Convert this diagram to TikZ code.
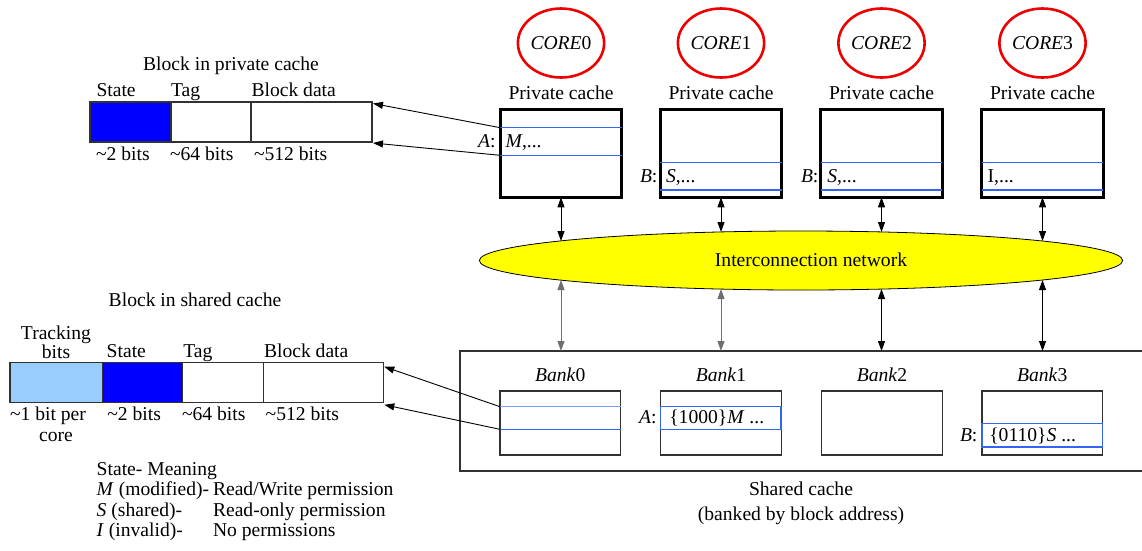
\documentclass[tikz,border=0pt]{standalone}
\usepackage{fontspec}
\setmainfont{Liberation Serif}
\usetikzlibrary{arrows.meta,shapes.geometric,calc}
\definecolor{stateblue}{RGB}{0,0,255}
\definecolor{trackblue}{RGB}{153,204,255}
\definecolor{rowblue}{RGB}{51,102,240}
\definecolor{rowlight}{RGB}{120,160,255}
\definecolor{netyellow}{RGB}{255,255,0}
\definecolor{corered}{RGB}{238,0,0}
\definecolor{edgegray}{RGB}{50,50,50}
\definecolor{shaftgray}{RGB}{110,110,110}
\begin{document}
\begin{tikzpicture}[x=1pt,y=-1pt,
  font=\fontsize{19.6}{22}\selectfont,
  >={Triangle[length=10pt,width=7pt]},
  txt/.style={inner sep=0pt,outer sep=0pt},
  lbl/.style={txt,anchor=base west},
  clbl/.style={txt,anchor=base},
  core/.style={ellipse,draw=corered,line width=2.6pt,minimum width=82pt,minimum height=69pt,inner sep=0pt,outer sep=0pt},
  pcache/.style={draw,line width=2.7pt,minimum width=121.5pt,minimum height=88pt,inner sep=0pt,outer sep=0pt,anchor=north west},
  bankbox/.style={draw=edgegray,line width=1.1pt,minimum width=120.5pt,minimum height=64pt,inner sep=0pt,outer sep=0pt,anchor=north west},
  field/.style={draw=edgegray,line width=1.1pt,inner sep=0pt,outer sep=0pt,anchor=north west},
  row/.style={rowblue,line width=1.3pt},
  link/.style={line width=0.9pt,<->},
  ptr/.style={line width=0.9pt,->}]
\useasboundingbox (0,0) rectangle (1142,550);

% ---- block layout in a private cache ----
\node[clbl] (ptitle) at (231,70.5) {Block in private cache};
\node[field,fill=stateblue,minimum width=81pt,minimum height=40pt] (pstate) at (90,102) {};
\node[field,minimum width=80pt,minimum height=40pt] (ptag) at (171,102) {};
\node[field,minimum width=121pt,minimum height=40pt] (pdata) at (251,102) {};
\node[lbl] (pstl) at (96.5,96.7) {State};
\node[lbl] (ptgl) at (171,96.7) {Tag};
\node[lbl] (pdtl) at (251.5,96.7) {Block data};
\node[lbl] (pstb) at (96,160) {\textasciitilde2 bits};
\node[lbl] (ptgb) at (170,160) {\textasciitilde64 bits};
\node[lbl] (pdtb) at (254,160) {\textasciitilde512 bits};

% ---- cores and their private caches ----
\foreach \i/\x in {0/561,1/721,2/881.5,3/1042.5}{
  \node[core] (core\i) at (\x,43) {\textit{CORE}\i};
  \node[clbl] (pcl\i) at (\x,99) {Private cache};
  \node[pcache] (c\i) at (\x-60.75,109.3) {};
}
\draw[row] ($(c0.north west)+(0,18.4)$) -- ($(c0.north east)+(0,18.4)$);
\draw[row] ($(c0.north west)+(0,46)$) -- ($(c0.north east)+(0,46)$);
\foreach \i in {1,2,3}{
  \draw[row] ($(c\i.north west)+(0,53)$) -- ($(c\i.north east)+(0,53)$);
  \draw[row] ($(c\i.north west)+(0,80.7)$) -- ($(c\i.north east)+(0,80.7)$);
}
\node[lbl] (ca) at (478,147.7) {\textit{A}:};
\node[lbl] (cam) at (505.7,147.7) {\textit{M},...};
\node[lbl] (cb1) at (640,182.7) {\textit{B}:};
\node[lbl] (cbs1) at (666,182.7) {\textit{S},...};
\node[lbl] (cb2) at (801,182.7) {\textit{B}:};
\node[lbl] (cbs2) at (827.3,182.7) {\textit{S},...};
\node[lbl] (ci3) at (987.7,182.7) {I,...};

% pointers from line A of private cache 0 to the block layout
\draw[ptr] ($(c0.north west)+(0,18.4)$) -- ($(pdata.north east)+(1,1.5)$);
\draw[ptr] ($(c0.north west)+(0,46)$) -- ($(pdata.south east)+(1,1)$);

% ---- interconnection network ----
\node[ellipse,draw,fill=netyellow,line width=0.8pt,minimum width=643.4pt,minimum height=59pt,inner sep=0pt,outer sep=0pt] (net) at (801,260.5) {};
\node[clbl] (netl) at (811,266.7) {Interconnection network};

% ---- shared cache ----
\node[draw=edgegray,line width=1.1pt,minimum width=700pt,minimum height=120pt,inner sep=0pt,outer sep=0pt,anchor=north west] (sc) at (460,351) {};
\foreach \i/\x in {0/500,1/660.7,2/821.7,3/982}{
  \node[bankbox] (b\i) at (\x,391) {};
  \node[clbl] (bl\i) at ($(b\i.north)+(0,-9.3)$) {\textit{Bank}\i};
}
\draw[rowlight,line width=1.3pt] ($(b0.north west)+(0,15.7)$) -- ($(b0.north east)+(0,15.7)$);
\draw[row] ($(b0.north west)+(0,38.3)$) -- ($(b0.north east)+(0,38.3)$);
\draw[rowblue,line width=1.5pt] ($(b1.north west)+(0,15.7)$) rectangle ($(b1.north east)+(0,38.3)$);
\draw[rowblue,line width=1.5pt] ($(b3.north west)+(0,32.3)$) rectangle ($(b3.north east)+(0,56)$);
\node[lbl] (sa) at (639,423.3) {\textit{A}:};
\node[lbl] (sam) at (669.3,423.3) {\{1000\}\textit{M} ...};
\node[lbl] (sb) at (960,441.7) {\textit{B}:};
\node[lbl] (sbs) at (989.3,441.7) {\{0110\}\textit{S} ...};
\node[clbl] (scl1) at (801,495) {Shared cache};
\node[clbl] (scl2) at (801,520) {(banked by block address)};

% links between caches, network and banks
\foreach \i/\x/\t/\b in {0/561/241/280,1/721/232/289,2/881.5/232/289,3/1042.5/241/280}{
  \coordinate (nt\i) at (\x,\t);
  \coordinate (nb\i) at (\x,\b);
  \draw[link] (c\i.south) -- (nt\i);
}
\draw[link,draw=shaftgray] (nb0) -- (nb0 |- sc.north);
\draw[link,draw=shaftgray] (nb1) -- (nb1 |- sc.north);
\draw[link] (nb2) -- (nb2 |- sc.north);
\draw[link] (nb3) -- (nb3 |- sc.north);

% ---- block layout in the shared cache ----
\node[clbl] (stitle) at (195,306.7) {Block in shared cache};
\node[field,fill=trackblue,minimum width=92.3pt,minimum height=39.6pt] (strk) at (10,362.7) {};
\node[field,fill=stateblue,minimum width=80.4pt,minimum height=39.6pt] (sst) at (102.3,362.7) {};
\node[field,minimum width=80.6pt,minimum height=39.6pt] (stg) at (182.7,362.7) {};
\node[field,minimum width=120pt,minimum height=39.6pt] (sdt) at (263.3,362.7) {};
\node[clbl] (strl1) at (56,339.3) {Tracking};
\node[clbl] (strl2) at (56,358.3) {bits};
\node[lbl] (sstl) at (106.7,357.7) {State};
\node[lbl] (stgl) at (183.3,357.7) {Tag};
\node[lbl] (sdtl) at (264,357.7) {Block data};
\node[lbl] (strb) at (10,420) {\textasciitilde1 bit per};
\node[clbl] (strb2) at (56,441.5) {core};
\node[lbl] (sstb) at (107.3,420) {\textasciitilde2 bits};
\node[lbl] (stgb) at (182,420) {\textasciitilde64 bits};
\node[lbl] (sdtb) at (265.7,420) {\textasciitilde512 bits};

% pointers from bank 0 to the shared block layout
\draw[ptr] ($(b0.north west)+(0,15.7)$) -- ($(sdt.north east)+(1,4)$);
\draw[ptr] ($(b0.north west)+(0,38.3)$) -- ($(sdt.south east)+(1,2.5)$);

% ---- state legend ----
\node[lbl] (lg0) at (96.7,475) {State- Meaning};
\node[lbl] (lg1) at (96.7,495.5) {\textit{M} (modified)-};
\node[lbl] (lg1m) at (213,495.5) {Read/Write permission};
\node[lbl] (lg2) at (96.7,516) {\textit{S} (shared)-};
\node[lbl] (lg2m) at (213,516) {Read-only permission};
\node[lbl] (lg3) at (96.7,536.5) {\textit{I} (invalid)-};
\node[lbl] (lg3m) at (213,536.5) {No permissions};
\end{tikzpicture}
\end{document}
